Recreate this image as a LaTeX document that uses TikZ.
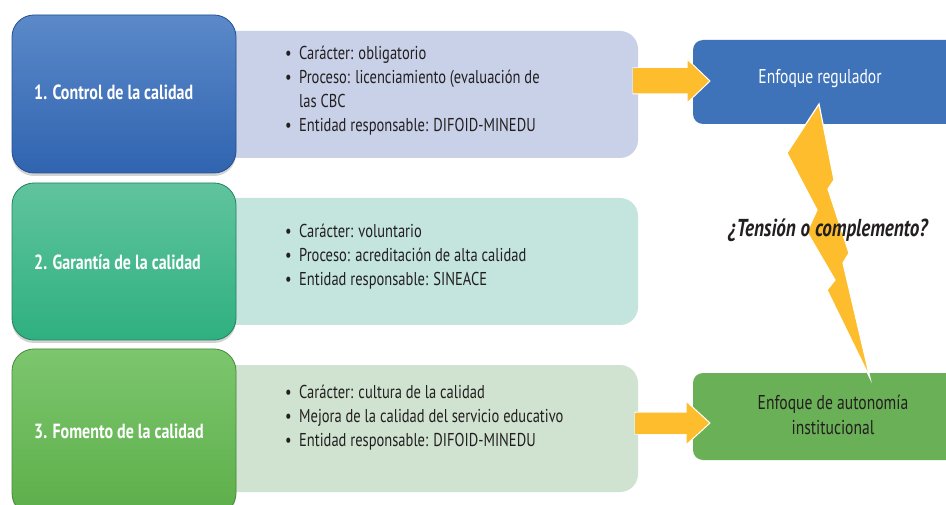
\documentclass[tikz,border=0pt]{standalone}
\usepackage{fontspec}
\setmainfont{PT Sans}[FakeStretch=0.78]
\usetikzlibrary{calc,shadows}
\definecolor{bAtop}{HTML}{5B89C9}\definecolor{bAbot}{HTML}{3064B0}\definecolor{bAbrd}{HTML}{24508F}
\definecolor{bBtop}{HTML}{60C49E}\definecolor{bBbot}{HTML}{2FB080}\definecolor{bBbrd}{HTML}{23835F}
\definecolor{bCtop}{HTML}{7CC66E}\definecolor{bCbot}{HTML}{5DAF4A}\definecolor{bCbrd}{HTML}{478A3A}
\definecolor{lA}{HTML}{C8D1E8}\definecolor{lB}{HTML}{C4E4DE}\definecolor{lC}{HTML}{D0E2D0}
\definecolor{regc}{HTML}{3F73B9}\definecolor{autc}{HTML}{6AB056}
\definecolor{yel}{HTML}{FDBD2C}\definecolor{txt}{HTML}{231F20}
\tikzset{
  bigbox/.style={rounded corners=22pt, line width=0.8pt, drop shadow={shadow xshift=0pt, shadow yshift=-3pt, opacity=0.35}},
  lightbox/.style={rounded corners=18pt},
  title/.style={text=white, font=\bfseries\fontsize{20.5}{24}\selectfont, anchor=west, inner sep=0pt},
  list/.style={text=txt, font=\fontsize{18.6}{24}\selectfont, align=left, anchor=west, inner sep=0pt},
  yarrow/.style={fill=yel, draw=white, line width=1pt},
}
\newcommand{\bul}{\makebox[14pt][l]{\textbullet}}
\newcommand{\nobul}{\hspace*{14pt}}
\begin{document}
\begin{tikzpicture}[x=1pt,y=-1pt]
\useasboundingbox[fill=white] (0,0) rectangle (946,505);
% light boxes
\fill[lA, lightbox] (200,31) rectangle (638,158);
\fill[lB, lightbox] (200,198) rectangle (638,325);
\fill[lC, lightbox] (200,365) rectangle (638,492);
\coordinate (lAe) at (638,81);
\coordinate (lCe) at (638,423);
% big boxes
\draw[bigbox, draw=bAbrd, top color=bAtop, bottom color=bAbot] (12,15) rectangle (236,173);
\draw[bigbox, draw=bBbrd, top color=bBtop, bottom color=bBbot] (12,183) rectangle (236,340);
\draw[bigbox, draw=bCbrd, top color=bCtop, bottom color=bCbot] (12,349) rectangle (236,515);
% right boxes
\fill[regc, rounded corners=10pt] (693,40) rectangle (970,124);
\fill[autc, rounded corners=10pt] (693,373) rectangle (970,460);
\node[inner sep=0pt] (reg) at (820,79) {\color{white}\fontsize{20}{25}\selectfont Enfoque regulador};
\node[inner sep=0pt, align=center, text=txt, font=\fontsize{20}{25}\selectfont] (aut) at (833,415) {Enfoque de autonomía\\institucional};
\coordinate (regw) at (693,81);
\coordinate (autw) at (693,423);
% arrows
\path[yarrow] ($(lAe)+(-5,-13)$) -- ($(regw)+(-6,-13)$) -- ($(regw)+(-6,-22)$) -- ($(regw)+(17,0)$) -- ($(regw)+(-6,22)$) -- ($(regw)+(-6,13)$) -- ($(lAe)+(-5,13)$) -- cycle;
\fill[yel] ($(lAe)+(-5,-12.5)$) rectangle ($(regw)+(-5,12.5)$);
\path[yarrow] ($(lCe)+(-3,-11)$) -- ($(autw)+(-7,-11)$) -- ($(autw)+(-7,-22)$) -- ($(autw)+(17,0)$) -- ($(autw)+(-7,22)$) -- ($(autw)+(-7,11)$) -- ($(lCe)+(-3,11)$) -- cycle;
\fill[yel] ($(lCe)+(-3,-10.5)$) rectangle ($(autw)+(-6,10.5)$);
% bolt
\path[fill=yel, draw=white, line width=1.2pt, line join=miter]
  (819,104) -- (834,180) -- (828,189) -- (849,253) -- (843,263) -- (870,378)
  -- (827,290) -- (835,280) -- (807,232) -- (817,210) -- (787,153) -- cycle;
% titles
\node[title] (t1) at (34,92) {1. Control de la calidad};
\node[title] (t2) at (34,262) {2. Garantía de la calidad};
\node[title] (t3) at (34,431) {3. Fomento de la calidad};
% lists
\node[list] (d1) at (285,91) {\bul Carácter: obligatorio\\\bul Proceso: licenciamiento (evaluación de\\\nobul las CBC\\\bul Entidad responsable: DIFOID-MINEDU};
\node[list] (d2) at (285,257) {\bul Carácter: voluntario\\\bul Proceso: acreditación de alta calidad\\\bul Entidad responsable: SINEACE};
\node[list] (d3) at (285,418) {\bul Carácter: cultura de la calidad\\\bul Mejora de la calidad del servicio educativo\\\bul Entidad responsable: DIFOID-MINEDU};
% question
\node[inner sep=0pt, text=txt, font=\bfseries\itshape\fontsize{24.5}{28}\selectfont] (q) at (828,230) {¿Tensión o complemento?};
\end{tikzpicture}
\end{document}
